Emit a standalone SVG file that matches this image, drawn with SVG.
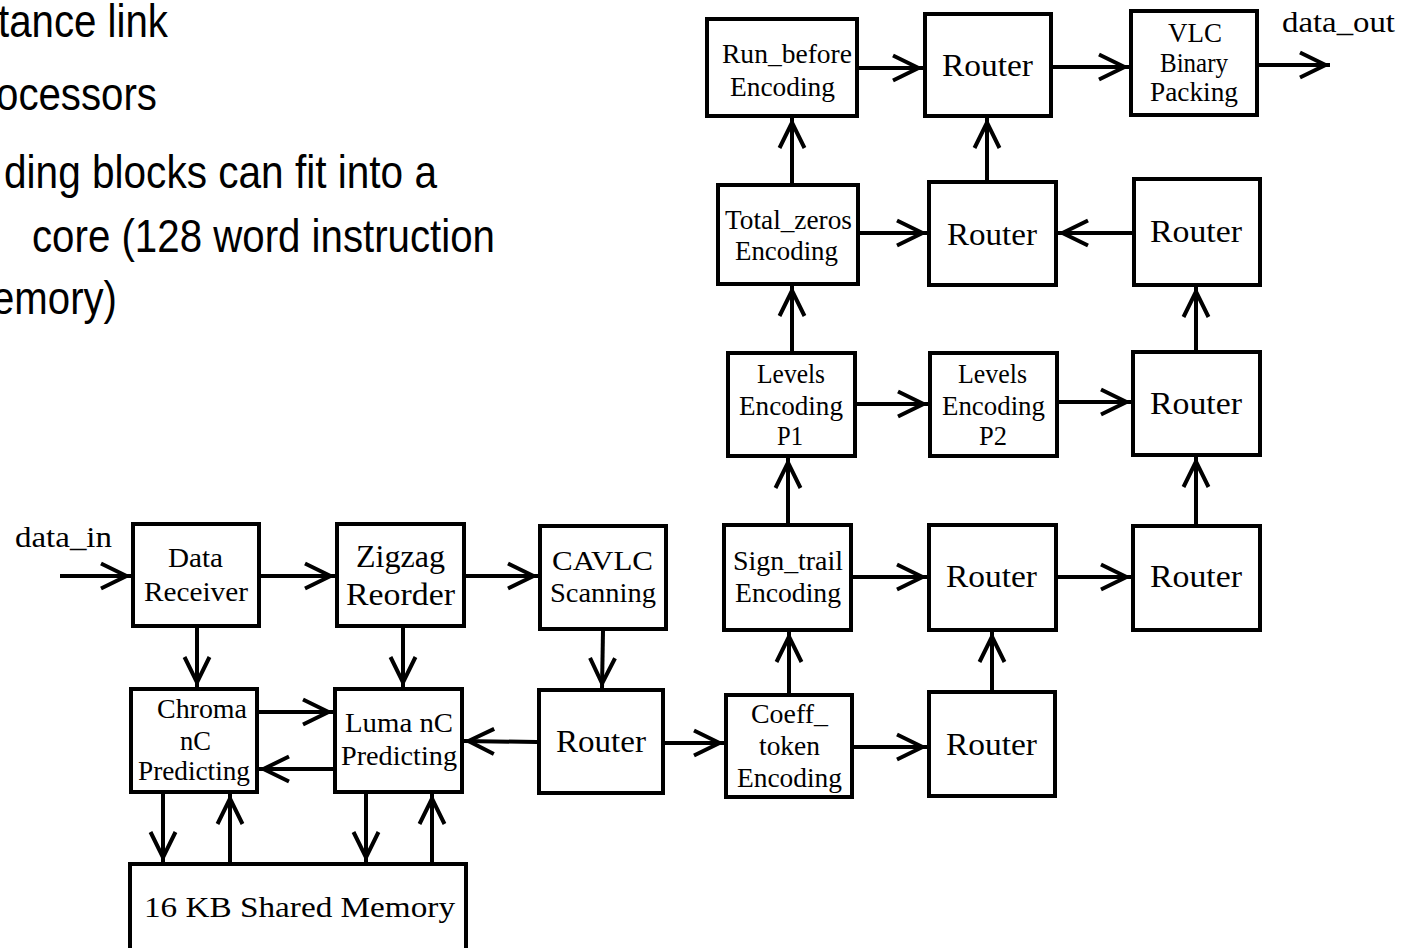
<svg xmlns="http://www.w3.org/2000/svg" width="1416" height="948" viewBox="0 0 1416 948">
<defs>
<style>
.box{fill:#fff;stroke:#000;stroke-width:4}
.l{font-family:"Liberation Serif","Times New Roman",serif;font-size:26.5px;fill:#000}
.r{font-size:32px}
.big{font-size:31px}
.io{font-size:30px}
.body{font-family:"Liberation Sans",Arial,sans-serif;font-size:46px;fill:#000}
.c{stroke:#000;stroke-width:4;fill:none;marker-end:url(#ah)}
</style>
<marker id="ah" markerUnits="userSpaceOnUse" viewBox="-34 -16 38 32" markerWidth="38" markerHeight="32" refX="0" refY="0" orient="auto">
<path d="M-30,-12.5 L-4.5,0 L-30,12.5" fill="none" stroke="#000" stroke-width="4" stroke-linejoin="miter" stroke-miterlimit="6"/>
</marker>
</defs>
<rect width="1416" height="948" fill="#fff"/>

<g id="bullets">
<text class="body" x="-2" y="37" textLength="170" lengthAdjust="spacingAndGlyphs">tance link</text>
<text class="body" x="-4" y="110" textLength="161" lengthAdjust="spacingAndGlyphs">ocessors</text>
<text class="body" x="4" y="188" textLength="433" lengthAdjust="spacingAndGlyphs">ding blocks can fit into a</text>
<text class="body" x="32" y="252" textLength="463" lengthAdjust="spacingAndGlyphs">core (128 word instruction</text>
<text class="body" x="-8" y="314" textLength="125" lengthAdjust="spacingAndGlyphs">emory)</text>
</g>

<g id="connectors">
<path class="c" d="M60,576 H131"/>
<path class="c" d="M261,576 H335"/>
<path class="c" d="M466,576 H538"/>
<path class="c" d="M197,628 V687"/>
<path class="c" d="M403,628 V687"/>
<path class="c" d="M259,712 H333"/>
<path class="c" d="M333,769 H259"/>
<path class="c" d="M163,794 V862"/>
<path class="c" d="M230,862 V794"/>
<path class="c" d="M366,794 V862"/>
<path class="c" d="M432,862 V794"/>
<path class="c" d="M603,631 L602,688"/>
<path class="c" d="M537,742 L464,741"/>
<path class="c" d="M665,743 H724"/>
<path class="c" d="M789,693 V632"/>
<path class="c" d="M854,747 H927"/>
<path class="c" d="M992,690 V632"/>
<path class="c" d="M853,577 H927"/>
<path class="c" d="M1058,577 H1131"/>
<path class="c" d="M1196,524 V457"/>
<path class="c" d="M788,523 V458"/>
<path class="c" d="M857,404 H928"/>
<path class="c" d="M1059,402 H1131"/>
<path class="c" d="M1196,350 V287"/>
<path class="c" d="M1132,233 H1058"/>
<path class="c" d="M860,233 H927"/>
<path class="c" d="M792,351 V286"/>
<path class="c" d="M792,183 V118"/>
<path class="c" d="M987,180 V118"/>
<path class="c" d="M859,68 H923"/>
<path class="c" d="M1053,67 H1129"/>
<path class="c" d="M1259,65 H1330"/>
</g>

<g id="io-labels">
<text class="l io" x="1282" y="32" textLength="113" lengthAdjust="spacingAndGlyphs">data_out</text>
<text class="l io" x="15" y="547" textLength="97" lengthAdjust="spacingAndGlyphs">data_in</text>
</g>

<g id="run-before">
<rect class="box" x="707" y="19" width="150" height="97"/>
<text class="l" x="722" y="63" textLength="130" lengthAdjust="spacingAndGlyphs">Run_before</text>
<text class="l" x="730" y="96" textLength="105" lengthAdjust="spacingAndGlyphs">Encoding</text>
</g>
<g id="router-top">
<rect class="box" x="925" y="14" width="126" height="102"/>
<text class="l r" x="942" y="76" textLength="91" lengthAdjust="spacingAndGlyphs">Router</text>
</g>
<g id="vlc">
<rect class="box" x="1131" y="11" width="126" height="104"/>
<text class="l" x="1168" y="42" textLength="54" lengthAdjust="spacingAndGlyphs">VLC</text>
<text class="l" x="1160" y="72" textLength="68" lengthAdjust="spacingAndGlyphs">Binary</text>
<text class="l" x="1150" y="101" textLength="88" lengthAdjust="spacingAndGlyphs">Packing</text>
</g>
<g id="total-zeros">
<rect class="box" x="718" y="185" width="140" height="99"/>
<text class="l" x="725" y="229" textLength="127" lengthAdjust="spacingAndGlyphs">Total_zeros</text>
<text class="l" x="735" y="260" textLength="103" lengthAdjust="spacingAndGlyphs">Encoding</text>
</g>
<g id="router-mid">
<rect class="box" x="929" y="182" width="127" height="103"/>
<text class="l r" x="947" y="245" textLength="90" lengthAdjust="spacingAndGlyphs">Router</text>
</g>
<g id="router-r1">
<rect class="box" x="1134" y="179" width="126" height="106"/>
<text class="l r" x="1150" y="242" textLength="92" lengthAdjust="spacingAndGlyphs">Router</text>
</g>
<g id="levels-p1">
<rect class="box" x="728" y="353" width="127" height="103"/>
<text class="l" x="757" y="383" textLength="68" lengthAdjust="spacingAndGlyphs">Levels</text>
<text class="l" x="739" y="415" textLength="104" lengthAdjust="spacingAndGlyphs">Encoding</text>
<text class="l" x="777" y="445" textLength="26" lengthAdjust="spacingAndGlyphs">P1</text>
</g>
<g id="levels-p2">
<rect class="box" x="930" y="353" width="127" height="103"/>
<text class="l" x="958" y="383" textLength="69" lengthAdjust="spacingAndGlyphs">Levels</text>
<text class="l" x="942" y="415" textLength="103" lengthAdjust="spacingAndGlyphs">Encoding</text>
<text class="l" x="979" y="445" textLength="28" lengthAdjust="spacingAndGlyphs">P2</text>
</g>
<g id="router-r2">
<rect class="box" x="1133" y="352" width="127" height="103"/>
<text class="l r" x="1150" y="414" textLength="92" lengthAdjust="spacingAndGlyphs">Router</text>
</g>
<g id="sign-trail">
<rect class="box" x="724" y="525" width="127" height="105"/>
<text class="l" x="733" y="570" textLength="110" lengthAdjust="spacingAndGlyphs">Sign_trail</text>
<text class="l" x="735" y="602" textLength="106" lengthAdjust="spacingAndGlyphs">Encoding</text>
</g>
<g id="router-sign">
<rect class="box" x="929" y="525" width="127" height="105"/>
<text class="l r" x="946" y="587" textLength="91" lengthAdjust="spacingAndGlyphs">Router</text>
</g>
<g id="router-r3">
<rect class="box" x="1133" y="526" width="127" height="104"/>
<text class="l r" x="1150" y="587" textLength="92" lengthAdjust="spacingAndGlyphs">Router</text>
</g>
<g id="data-receiver">
<rect class="box" x="133" y="524" width="126" height="102"/>
<text class="l" x="168" y="567" textLength="55" lengthAdjust="spacingAndGlyphs">Data</text>
<text class="l" x="144" y="601" textLength="104" lengthAdjust="spacingAndGlyphs">Receiver</text>
</g>
<g id="zigzag">
<rect class="box" x="337" y="524" width="127" height="102"/>
<text class="l big" x="356" y="567" textLength="89" lengthAdjust="spacingAndGlyphs">Zigzag</text>
<text class="l big" x="346" y="605" textLength="109" lengthAdjust="spacingAndGlyphs">Reorder</text>
</g>
<g id="cavlc">
<rect class="box" x="540" y="526" width="126" height="103"/>
<text class="l" x="552" y="570" textLength="101" lengthAdjust="spacingAndGlyphs">CAVLC</text>
<text class="l" x="550" y="602" textLength="106" lengthAdjust="spacingAndGlyphs">Scanning</text>
</g>
<g id="chroma">
<rect class="box" x="131" y="689" width="126" height="103"/>
<text class="l" x="157" y="718" textLength="90" lengthAdjust="spacingAndGlyphs">Chroma</text>
<text class="l" x="180" y="750" textLength="31" lengthAdjust="spacingAndGlyphs">nC</text>
<text class="l" x="138" y="780" textLength="112" lengthAdjust="spacingAndGlyphs">Predicting</text>
</g>
<g id="luma">
<rect class="box" x="335" y="689" width="127" height="103"/>
<text class="l" x="345" y="732" textLength="108" lengthAdjust="spacingAndGlyphs">Luma nC</text>
<text class="l" x="341" y="765" textLength="116" lengthAdjust="spacingAndGlyphs">Predicting</text>
</g>
<g id="router-bottom">
<rect class="box" x="539" y="690" width="124" height="103"/>
<text class="l r" x="556" y="752" textLength="90" lengthAdjust="spacingAndGlyphs">Router</text>
</g>
<g id="coeff-token">
<rect class="box" x="726" y="695" width="126" height="102"/>
<text class="l" x="751" y="723" textLength="77" lengthAdjust="spacingAndGlyphs">Coeff_</text>
<text class="l" x="759" y="755" textLength="61" lengthAdjust="spacingAndGlyphs">token</text>
<text class="l" x="737" y="787" textLength="105" lengthAdjust="spacingAndGlyphs">Encoding</text>
</g>
<g id="router-br">
<rect class="box" x="929" y="692" width="126" height="104"/>
<text class="l r" x="946" y="755" textLength="91" lengthAdjust="spacingAndGlyphs">Router</text>
</g>
<g id="shared-memory">
<rect class="box" x="130" y="864" width="336" height="100"/>
<text class="l io" x="144" y="917" textLength="311" lengthAdjust="spacingAndGlyphs">16 KB Shared Memory</text>
</g>
</svg>
